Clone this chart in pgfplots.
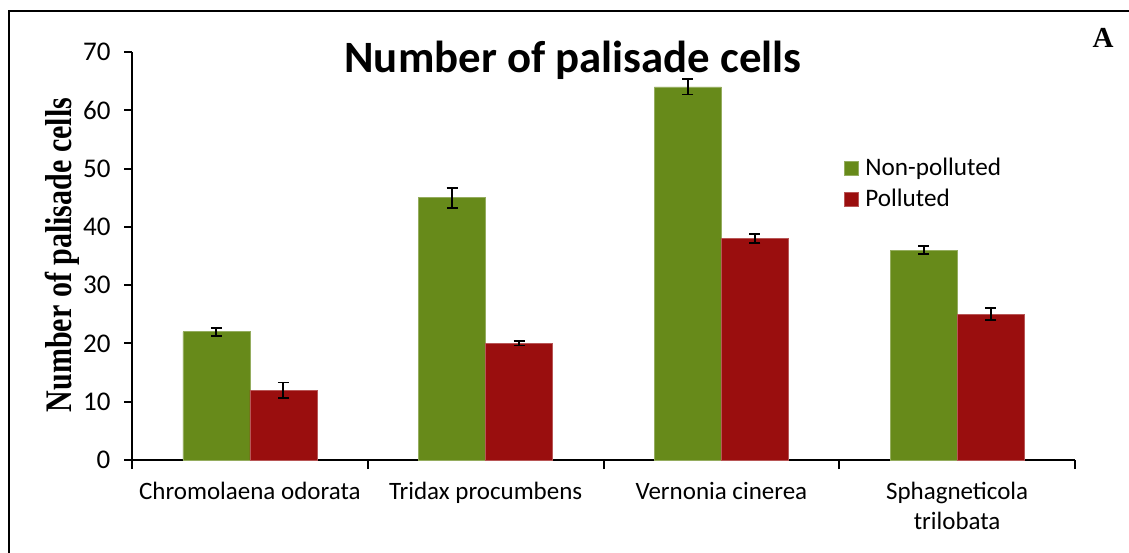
\documentclass[border=0pt]{standalone}
\usepackage{fontspec}
\setmainfont{Carlito}
\newfontfamily\timesfont{Liberation Serif}
\usepackage{pgfplots}
\pgfplotsset{compat=1.18}
\usepackage{graphicx}
\definecolor{nonpol}{HTML}{678A1A}
\definecolor{pol}{HTML}{9A0E0E}

% x = category centre, y = mean, ey = error
\pgfplotstableread{
x    y   ey
0.5  22  0.7
1.5  45  1.7
2.5  64  1.3
3.5  36  0.7
}\nonpolluted
\pgfplotstableread{
x    y   ey
0.5  12  1.3
1.5  20  0.35
2.5  38  0.75
3.5  25  1.05
}\polluted

\begin{document}
\begin{tikzpicture}
\path[use as bounding box] (-66pt,-46pt) rectangle (498.5pt,230pt);
\begin{axis}[
  at={(0,0)}, anchor=south west,
  scale only axis, width=471.5pt, height=204pt,
  ybar=0pt, bar width=33.5pt,
  xmin=0, xmax=4, ymin=0, ymax=70,
  ytick={0,10,...,70},
  xtick={0.5,1.5,2.5,3.5},
  xticklabels={Chromolaena odorata, Tridax procumbens, Vernonia cinerea, {Sphagneticola\\trilobata}},
  xticklabel style={align=center, font=\fontsize{12.5}{14.6}\selectfont, yshift=-4pt},
  yticklabel style={font=\fontsize{13.5}{13.5}\selectfont, xshift=-3.5pt},
  /pgf/number format/assume math mode=true,
  x tick style={draw=none},
  extra x ticks={0,1,2,3,4}, extra x tick labels={},
  extra x tick style={x tick style={draw=black, line width=1pt}, major tick length=4.5pt},
  tick align=outside, major tick length=3.75pt,
  y tick style={line width=1pt, black},
  axis x line*=bottom, axis y line*=left,
  axis line style={-, line width=1pt},
  clip=false,
  legend style={at={(axis description cs:0.748,0.76)}, anchor=north west, draw=none,
    font=\fontsize{12.6}{14.5}\selectfont, row sep=1pt, fill=none},
  legend cell align=left,
  legend image code/.code={\fill[#1] (0pt,-3.5pt) rectangle (7pt,3.5pt);},
  error bars/error bar style={line width=0.95pt, black},
  error bars/error mark options={rotate=90, mark size=2.8pt, line width=0.95pt, black},
]
\addplot[fill=nonpol, draw=nonpol!70!white, line width=0.3pt,
  error bars/.cd, y dir=both, y explicit]
  table[x=x, y=y, y error=ey] {\nonpolluted};
\addplot[fill=pol, draw=pol!70!white, line width=0.3pt,
  error bars/.cd, y dir=both, y explicit]
  table[x=x, y=y, y error=ey] {\polluted};
\legend{\hspace{1.5pt}Non-polluted, \hspace{1.5pt}Polluted}
\end{axis}
% title, panel letter, y label, outer frame
\node[anchor=base, font=\bfseries\fontsize{22.4}{23}\selectfont] at (220.5pt,193.6pt) {Number of palisade cells};
\node[anchor=base, font=\timesfont\bfseries\fontsize{14.5}{15}\selectfont] at (485.5pt,206pt) {A};
\node[rotate=90, font=\timesfont\bfseries\fontsize{15}{15}\selectfont] at (-35pt,102.5pt) {\scalebox{1}[1.25]{Number of palisade cells}};
\draw[line width=1pt] (-61.5pt,-60pt) -- (-61.5pt,224.5pt) -- (510pt,224.5pt);
\end{tikzpicture}
\end{document}
